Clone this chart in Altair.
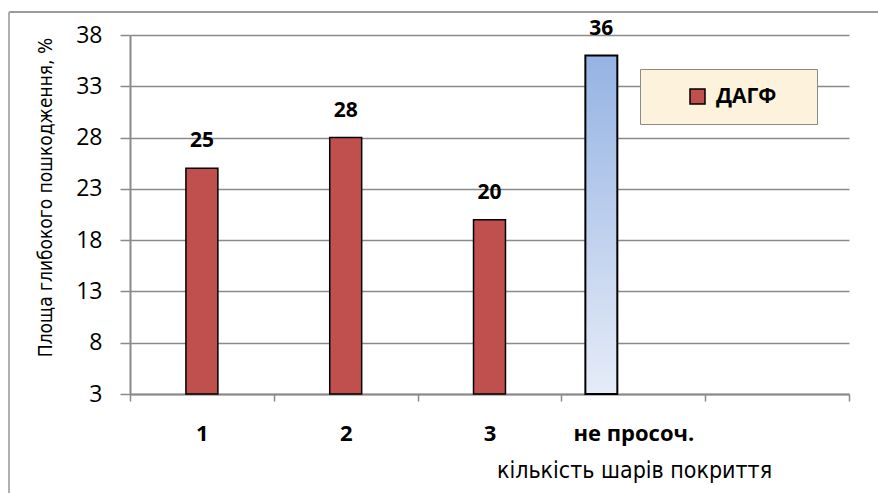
import altair as alt
import pandas as pd

# ---- data ----
categories = ["1", "2", "3", "не просоч.", " "]
bar_categories = ["1", "2", "3", "не просоч."]
series = ["ДАГФ", "ДАГФ", "ДАГФ", "не просоч."]
values = [25, 28, 20, 36]
offset_groups = ["не просоч.", "ДАГФ", "·"]
y_ticks = [3, 8, 13, 18, 23, 28, 33, 38]
y_min, y_max = 3, 38

df = pd.DataFrame({"cat": bar_categories, "series": series, "value": values})
df["base"] = y_min

GRID = "#8a8a8a"
FONT = "Open Sans"
NARROW = "Liberation Sans Narrow, DejaVu Sans Condensed, Roboto, sans-serif"

x_enc = alt.X(
    "cat:N",
    scale=alt.Scale(domain=categories, paddingInner=0, paddingOuter=0),
    sort=categories,
    axis=alt.Axis(
        title="кількість шарів покриття",
        titleFont=NARROW, titleFontSize=23, titleFontWeight="normal", titleColor="black",
        titleX=504, titleY=76, titleAlign="center", titleBaseline="middle", titleAnchor="start",
        labelFont=FONT, labelFontSize=22, labelFontWeight="bold", labelColor="black",
        labelAngle=0, labelPadding=22,
        tickBand="extent", tickSize=7, tickColor=GRID, tickWidth=1.5,
        domainColor=GRID, domainWidth=2, grid=False,
    ),
)
xoff_enc = alt.XOffset(
    "series:N",
    scale=alt.Scale(domain=offset_groups, paddingInner=0, paddingOuter=0.75),
)
y_scale = alt.Scale(domain=[y_min, y_max], nice=False, zero=False)
y_enc = alt.Y(
    "value:Q",
    scale=y_scale,
    axis=alt.Axis(
        values=y_ticks,
        title="Площа глибокого пошкодження, %",
        titleFont=NARROW, titleFontSize=19, titleFontWeight="normal", titleColor="black",
        titleAngle=-90, titleX=-85, titleY=162, titleAlign="center", titleBaseline="middle",
        labelFont=FONT, labelFontSize=23, labelColor="black", labelPadding=18,
        tickSize=10, tickColor=GRID, tickWidth=1.5,
        grid=True, gridColor=GRID, gridWidth=1.5,
        domainColor=GRID, domainWidth=2,
    ),
)

base = alt.Chart(df)

red = base.transform_filter(alt.datum.series == "ДАГФ").mark_bar(
    stroke="black", strokeWidth=1.5
).encode(
    x=x_enc, xOffset=xoff_enc, y=y_enc, y2="base:Q",
    color=alt.Color(
        "series:N",
        scale=alt.Scale(domain=["ДАГФ"], range=["#C0504D"]),
        legend=alt.Legend(
            title="\u00a0", titleOrient="right", titlePadding=24, titleFontSize=4,
            orient="none", legendX=510, legendY=34,
            fillColor="#FDF2DC", strokeColor=GRID, padding=17,
            symbolType="square", symbolSize=225, symbolStrokeColor="black",
            symbolStrokeWidth=1.5, symbolOffset=30, labelOffset=8,
            labelFont=FONT, labelFontSize=21, labelFontWeight="bold", labelColor="black",
        ),
    ),
)

blue = base.transform_filter(alt.datum.series != "ДАГФ").mark_bar(
    stroke="black", strokeWidth=2,
    fill=alt.Gradient(
        gradient="linear", x1=0, y1=0, x2=0, y2=1,
        stops=[alt.GradientStop(offset=0, color="#95B3E3"),
               alt.GradientStop(offset=1, color="#E6ECF8")],
    ),
).encode(x=x_enc, xOffset=xoff_enc, y=y_enc, y2="base:Q")

labels = base.mark_text(
    font=FONT, fontSize=21, fontWeight="bold", color="black", baseline="middle", dy=-27
).encode(x=x_enc, xOffset=xoff_enc, y=y_enc, text="value:Q")

top_border = alt.Chart(df).mark_rule(color="#9a9a9a", strokeWidth=2).encode(
    x=alt.value(-121), x2=alt.value(760), y=alt.value(-23)
)
left_border = alt.Chart(df).mark_rule(color="#b0b0b0", strokeWidth=2).encode(
    x=alt.value(-121), y=alt.value(-23), y2=alt.value(470)
)

chart = alt.layer(red, blue, labels, top_border, left_border).properties(
    width=719, height=359,
    autosize=alt.AutoSizeParams(type="none"),
    padding={"left": 130, "top": 35, "right": 29, "bottom": 99},
    background="white",
).configure_view(stroke=None)

chart.save("out.html", embed_options={"renderer": "svg", "actions": False})
